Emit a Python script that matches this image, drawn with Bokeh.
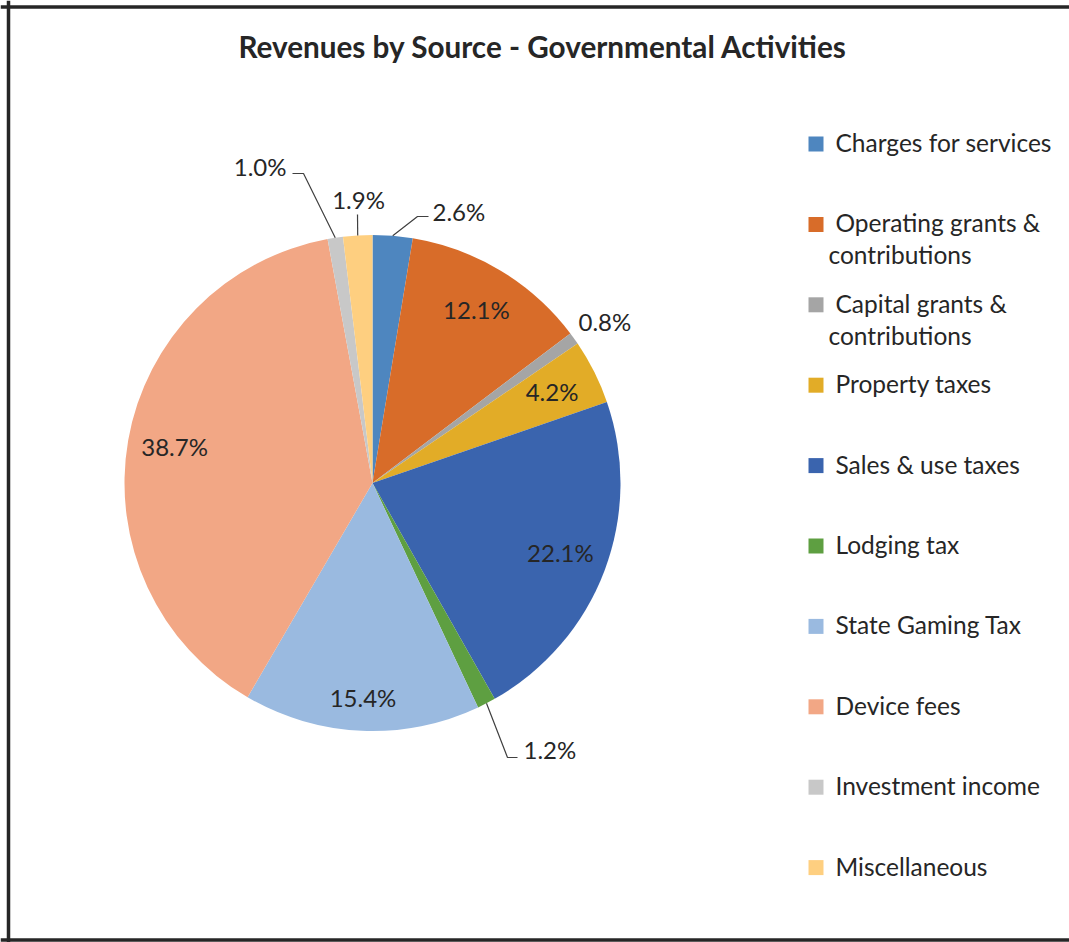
import math
import textwrap
import numpy as np
from bokeh.plotting import figure
from bokeh.models import ColumnDataSource, Range1d, Span
from bokeh.core.properties import value
from bokeh.embed import file_html
from bokeh.resources import INLINE

# ---------------- data ----------------
title = "Revenues by Source - Governmental Activities"
categories = [
    "Charges for services",
    "Operating grants & contributions",
    "Capital grants & contributions",
    "Property taxes",
    "Sales & use taxes",
    "Lodging tax",
    "State Gaming Tax",
    "Device fees",
    "Investment income",
    "Miscellaneous",
]
shares = [2.6, 12.1, 0.8, 4.2, 22.1, 1.2, 15.4, 38.7, 1.0, 1.9]
colors = [
    "#4E86BF", "#D86C29", "#A5A5A5", "#E2AC27", "#3A64AE",
    "#5E9F41", "#9ABAE0", "#F2A785", "#C8C8C8", "#FECF80",
]

# ---------------- layout ----------------
W, H = 1069, 942
FONT = "Lato"
TXT = "#262626"
TY = -1.5  # small vertical nudge for middle-baseline text


def P(px, py):
    """page pixel -> data coords (1:1 pixel mapping)"""
    return px, H - py


CX, CY = P(372, 482.5)
R = 248

p = figure(width=W, height=H, x_range=Range1d(0, W), y_range=Range1d(0, H),
           output_backend="svg", toolbar_location=None, min_border=0,
           x_axis_location=None, y_axis_location=None, title=None)
p.grid.visible = False
p.outline_line_color = None
p.background_fill_color = "white"
p.border_fill_color = "white"

# frame borders (left, top, bottom)
p.add_layout(Span(location=8, dimension="height", line_color=TXT, line_width=3.5))
p.add_layout(Span(location=H - 6.5, dimension="width", line_color=TXT, line_width=3.5))
p.add_layout(Span(location=H - 939.5, dimension="width", line_color=TXT, line_width=3.5))

# title
tx, ty = P(542.5, 46)
p.text(x=[tx], y=[ty], text=[title], text_font=value(FONT), text_font_style="bold",
       text_font_size="29.7px", text_color=TXT, text_align="center",
       text_baseline="middle")

# pie
frac = np.array(shares) / sum(shares)
c1 = np.cumsum(frac)
c0 = c1 - frac
start = math.pi / 2 - 2 * math.pi * c0
end = math.pi / 2 - 2 * math.pi * c1
mid = (start + end) / 2

src = ColumnDataSource(dict(cat=categories, start=start, end=end, color=colors))
p.wedge(x=CX, y=CY, radius=R, start_angle="start", end_angle="end",
        direction="clock", fill_color="color", line_color=None, source=src)

# data labels
label_r = {"State Gaming Tax": 0.87}
outside = {
    "Charges for services": dict(at=(432, 212), align="left", leader=[(417, 216), (428, 216)]),
    "Capital grants & contributions": dict(at=(578, 322), align="left", leader=[]),
    "Lodging tax": dict(at=(523, 750), align="left", leader=[(507, 757), (517, 757)]),
    "Investment income": dict(at=(286, 167), align="right", leader=[(303, 173), (292, 173)]),
    "Miscellaneous": dict(at=(358, 200), align="center", leader=[(357, 214)]),
}

for cat, s, m in zip(categories, shares, mid):
    txt = f"{s:.1f}%"
    if cat in outside:
        o = outside[cat]
        lx, ly = P(o["at"][0], o["at"][1] + TY)
        align = o["align"]
        if o["leader"]:
            ex, ey = CX + R * math.cos(m), CY + R * math.sin(m)
            pts = [(ex, ey)] + [P(*q) for q in o["leader"]]
            p.line(x=[q[0] for q in pts], y=[q[1] for q in pts],
                   line_color="#404040", line_width=1.2)
    else:
        rf = label_r.get(cat, 0.81)
        lx, ly = CX + rf * R * math.cos(m), CY + rf * R * math.sin(m) - TY
        align = "center"
    p.text(x=[lx], y=[ly], text=[txt], text_font=value(FONT), text_font_size="24px",
           text_color=TXT, text_align=align, text_baseline="middle")

# legend
LEG_Y0, LEG_DY, LINE_DY = 143.5, 80.4, 32
for i, (cat, col) in enumerate(zip(categories, colors)):
    py = LEG_Y0 + i * LEG_DY
    mx, my = P(815.5, py)
    p.scatter(x=[mx], y=[my], marker="square", size=15, fill_color=col, line_color=None)
    lines = textwrap.wrap(cat, width=20)
    for j, line in enumerate(lines):
        lx, ly = P(835 if j == 0 else 828, py + j * LINE_DY + TY)
        p.text(x=[lx], y=[ly], text=[line], text_font=value(FONT), text_font_size="24.5px",
               text_color=TXT, text_align="left", text_baseline="middle")

open("out.html", "w").write(file_html(p, INLINE))
